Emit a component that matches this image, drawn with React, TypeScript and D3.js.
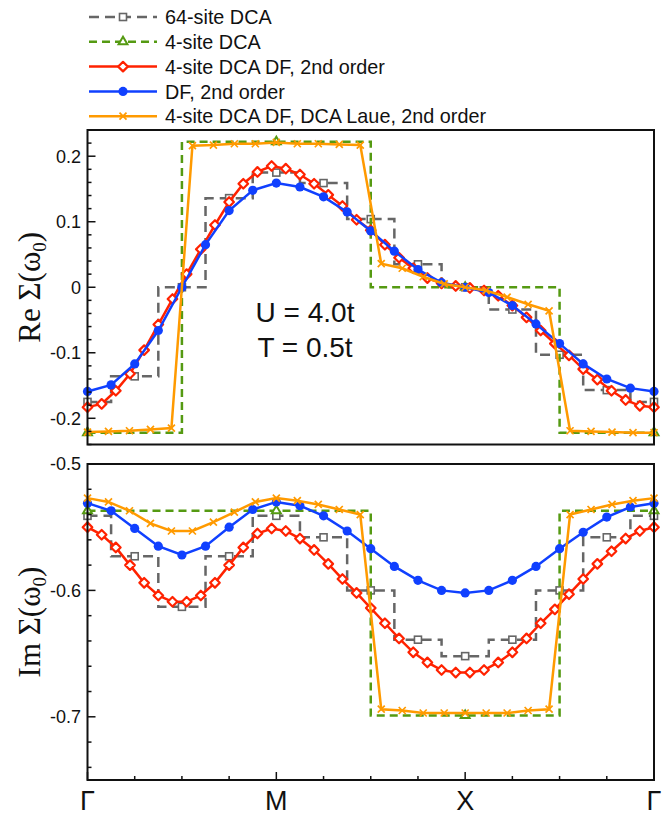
import React, { useEffect, useRef } from 'react';
import * as d3 from 'd3';

// k-path labels (x positions in units of the 8x8 cluster grid)
const kLabels = ['Γ', 'M', 'X', 'Γ'];
const kLabelPos = [0, 4, 8, 12];

// Re Sigma(omega_0)
const reDCA64 = [-0.175, -0.136, 0.0, 0.136, 0.175, 0.159, 0.104, 0.035, 0.0, -0.034, -0.103, -0.157, -0.175];
const reDCA4 = [-0.222, 0.222, 0.0, -0.222];
const reDCADF = [-0.183, -0.178, -0.158, -0.132, -0.096, -0.057, -0.018, 0.020, 0.058, 0.095, 0.130, 0.158, 0.176, 0.185,
  0.181, 0.172, 0.158, 0.141, 0.124, 0.103, 0.087, 0.065, 0.045, 0.029, 0.014, 0.006, 0.002, -0.001, -0.005, -0.013,
  -0.028, -0.046, -0.066, -0.086, -0.104, -0.125, -0.141, -0.158, -0.172, -0.181, -0.183];
const reDF = [-0.159, -0.149, -0.117, -0.066, 0.0, 0.065, 0.117, 0.148, 0.159, 0.153, 0.138, 0.115, 0.086, 0.055, 0.027,
  0.007, 0.0, -0.008, -0.028, -0.056, -0.086, -0.117, -0.140, -0.154, -0.159];
const reLaue = [-0.221, -0.220, -0.219, -0.217, -0.215, 0.216, 0.217, 0.219, 0.219, 0.221, 0.219, 0.219, 0.218, 0.217,
  0.036, 0.029, 0.016, 0.005, 0.0, -0.005, -0.015, -0.026, -0.036, -0.219, -0.220, -0.221, -0.222, -0.222];

// Im Sigma(omega_0)
const imDCA64 = [-0.541, -0.573, -0.613, -0.573, -0.541, -0.558, -0.600, -0.639, -0.652, -0.639, -0.600, -0.558, -0.541];
const imDCA4 = [-0.537, -0.537, -0.699, -0.537];
const imDCADF = [-0.550, -0.556, -0.566, -0.580, -0.594, -0.604, -0.609, -0.609, -0.604, -0.594, -0.580, -0.566, -0.555,
  -0.551, -0.553, -0.559, -0.568, -0.579, -0.591, -0.602, -0.614, -0.626, -0.638, -0.649, -0.657, -0.663, -0.665,
  -0.665, -0.663, -0.657, -0.649, -0.638, -0.626, -0.615, -0.603, -0.591, -0.579, -0.569, -0.559, -0.553, -0.550];
const imDF = [-0.531, -0.537, -0.551, -0.565, -0.572, -0.565, -0.550, -0.536, -0.530, -0.533, -0.541, -0.553, -0.567,
  -0.581, -0.592, -0.600, -0.602, -0.600, -0.592, -0.581, -0.567, -0.554, -0.542, -0.534, -0.531];
const imLaue = [-0.527, -0.530, -0.537, -0.547, -0.553, -0.553, -0.546, -0.538, -0.530, -0.527, -0.529, -0.532, -0.536,
  -0.540, -0.694, -0.695, -0.697, -0.697, -0.697, -0.697, -0.697, -0.695, -0.694, -0.540, -0.536, -0.532, -0.529, -0.527];

const reTicks = [-0.2, -0.1, 0, 0.1, 0.2];
const imTicks = [-0.7, -0.6, -0.5];

const legendNames = ['64-site DCA', '4-site DCA', '4-site DCA DF, 2nd order', 'DF, 2nd order', '4-site DCA DF, DCA Laue, 2nd order'];

const SANS = '"Liberation Sans", Arial, Helvetica, sans-serif';
const SERIF = '"Liberation Serif", "Times New Roman", serif';

const styles = [
  { color: '#666666', dash: '10,6', step: true, marker: 'square' },
  { color: '#559a12', dash: '8,5', step: true, marker: 'triangle' },
  { color: '#ff2200', dash: null, step: false, marker: 'diamond' },
  { color: '#1040ff', dash: null, step: false, marker: 'circle' },
  { color: '#ff9a00', dash: null, step: false, marker: 'cross' },
];

function drawMarker(g, kind, color, cx, cy) {
  if (kind === 'square') {
    g.append('rect').attr('x', cx - 3.5).attr('y', cy - 3.5).attr('width', 7).attr('height', 7)
      .attr('fill', 'white').attr('stroke', color).attr('stroke-width', 1.6);
  } else if (kind === 'triangle') {
    g.append('path').attr('d', d3.symbol(d3.symbolTriangle, 34)()).attr('transform', `translate(${cx},${cy})`)
      .attr('fill', 'white').attr('stroke', color).attr('stroke-width', 2);
  } else if (kind === 'diamond') {
    g.append('path').attr('d', `M${cx},${cy - 4.8}L${cx + 4.8},${cy}L${cx},${cy + 4.8}L${cx - 4.8},${cy}Z`)
      .attr('fill', 'white').attr('stroke', color).attr('stroke-width', 2.2).attr('stroke-linejoin', 'round');
  } else if (kind === 'circle') {
    g.append('circle').attr('cx', cx).attr('cy', cy).attr('r', 4.6).attr('fill', color);
  } else {
    g.append('path').attr('d', `M${cx - 3.5},${cy - 3.5}L${cx + 3.5},${cy + 3.5}M${cx - 3.5},${cy + 3.5}L${cx + 3.5},${cy - 3.5}`)
      .attr('stroke', color).attr('stroke-width', 1.7);
  }
}

const App = () => {
  const svgRef = useRef(null);

  useEffect(() => {
    const svg = d3.select(svgRef.current);
    svg.selectAll('*').remove();

    const left = 87.5;
    const right = 654;
    const x = d3.scaleLinear().domain([0, 12]).range([left, right]);

    const panels = [
      { series: [reDCA64, reDCA4, reDCADF, reDF, reLaue], domain: [-0.24, 0.24], range: [444.5, 130], ticks: reTicks, title: 'Re', xticks: false },
      { series: [imDCA64, imDCA4, imDCADF, imDF, imLaue], domain: [-0.75, -0.5], range: [780, 464], ticks: imTicks, title: 'Im', xticks: true },
    ];

    panels.forEach(p => {
      const y = d3.scaleLinear().domain(p.domain).range(p.range);
      const g = svg.append('g');

      p.series.forEach((vals, si) => {
        const st = styles[si];
        const idx = d3.scaleLinear().domain([0, vals.length - 1]).range([0, 12]);
        const pts = vals.map((v, i) => [x(idx(i)), y(v)]);
        const line = d3.line().curve(st.step ? d3.curveStep : d3.curveLinear);
        g.append('path').attr('d', line(pts)).attr('fill', 'none').attr('stroke', st.color)
          .attr('stroke-width', 2.5).attr('stroke-dasharray', st.dash);
        pts.forEach(([cx, cy]) => drawMarker(g, st.marker, st.color, cx, cy));
      });

      // frame
      g.append('rect').attr('x', left).attr('y', p.range[1]).attr('width', right - left)
        .attr('height', p.range[0] - p.range[1]).attr('fill', 'none').attr('stroke', '#111').attr('stroke-width', 2);

      // y ticks
      const [lo, hi] = p.domain;
      d3.range(Math.ceil(lo / 0.02 - 1e-6), Math.floor(hi / 0.02 + 1e-6) + 1).forEach(k => {
        const v = k * 0.02;
        const major = Math.abs(k % 5) === 0;
        g.append('line').attr('x1', left).attr('x2', left + (major ? 8 : 4))
          .attr('y1', y(v)).attr('y2', y(v)).attr('stroke', '#111').attr('stroke-width', 1.5);
      });
      p.ticks.forEach(v => {
        g.append('text').attr('x', 81).attr('y', y(v)).attr('dy', '0.36em').attr('text-anchor', 'end')
          .attr('font-family', SANS).attr('font-size', 18).attr('fill', '#111').text(v === 0 ? '0' : v.toFixed(1));
      });

      // y title
      const cy = (p.range[0] + p.range[1]) / 2;
      const t = g.append('text').attr('transform', `translate(40,${cy}) rotate(-90)`).attr('text-anchor', 'middle')
        .attr('font-family', SERIF).attr('font-size', 31).attr('fill', '#111');
      t.append('tspan').text(`${p.title} Σ(ω`);
      t.append('tspan').attr('font-size', 19).attr('dy', 6).text('0');
      t.append('tspan').attr('dy', -6).text(')');

      if (p.xticks) {
        d3.range(0, 13).forEach(k => {
          const major = k % 4 === 0;
          g.append('line').attr('x1', x(k)).attr('x2', x(k)).attr('y1', p.range[0]).attr('y2', p.range[0] - (major ? 8 : 4))
            .attr('stroke', '#111').attr('stroke-width', 1.5);
        });
        kLabels.forEach((lab, i) => {
          g.append('text').attr('x', x(kLabelPos[i])).attr('y', 810).attr('text-anchor', 'middle')
            .attr('font-family', SANS).attr('font-size', 27).attr('fill', '#111').text(lab);
        });
      }
    });

    // annotation
    const ann = svg.append('g').attr('font-family', SANS).attr('font-size', 28).attr('fill', '#111').attr('text-anchor', 'middle');
    ann.append('text').attr('x', 305).attr('y', 322).text('U = 4.0t');
    ann.append('text').attr('x', 305).attr('y', 357).text('T = 0.5t');

    // legend
    const lg = svg.append('g');
    legendNames.forEach((name, i) => {
      const st = styles[i];
      const ly = 17 + i * 24.8;
      lg.append('line').attr('x1', 89).attr('x2', 157).attr('y1', ly).attr('y2', ly).attr('stroke', st.color)
        .attr('stroke-width', 2.5).attr('stroke-dasharray', st.dash);
      drawMarker(lg, st.marker, st.color, 123, ly);
      lg.append('text').attr('x', 165).attr('y', ly).attr('dy', '0.36em').attr('font-family', SANS)
        .attr('font-size', 19.8).attr('fill', '#111').text(name);
    });
  }, []);

  return (
    <svg ref={svgRef} width={664} height={817} style={{ position: 'absolute', left: 0, top: 0, background: 'white' }}></svg>
  );
};

export default App;
